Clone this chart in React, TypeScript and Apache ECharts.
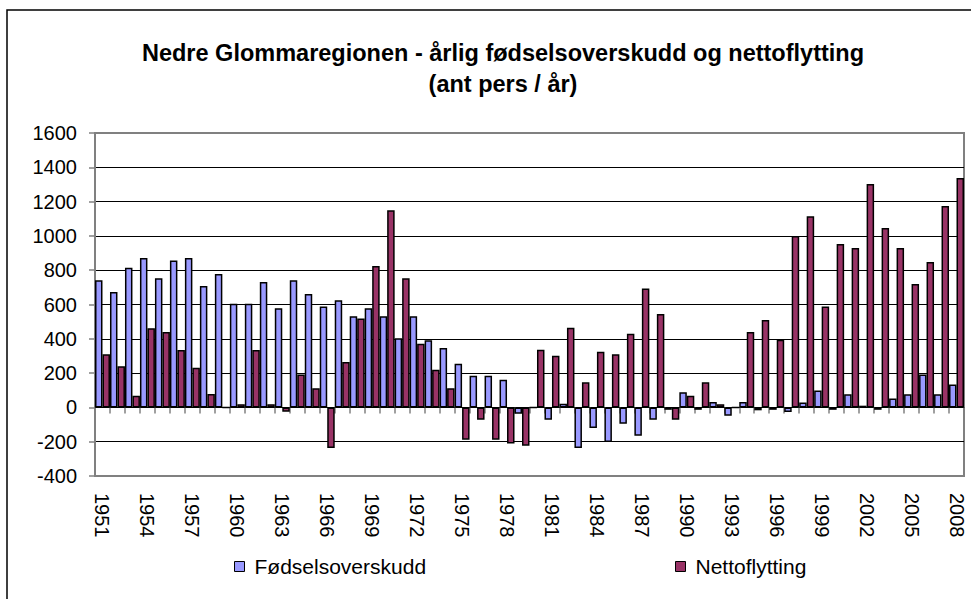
import React, { useEffect, useRef } from "react";
import * as echarts from "echarts";

const years = [
  "1951","1952","1953","1954","1955","1956","1957","1958","1959","1960",
  "1961","1962","1963","1964","1965","1966","1967","1968","1969","1970",
  "1971","1972","1973","1974","1975","1976","1977","1978","1979","1980",
  "1981","1982","1983","1984","1985","1986","1987","1988","1989","1990",
  "1991","1992","1993","1994","1995","1996","1997","1998","1999","2000",
  "2001","2002","2003","2004","2005","2006","2007","2008",
];

const fodselsoverskudd = [
  741, 673, 815, 871, 753, 857, 871, 708, 778, 605,
  605, 731, 578, 741, 661, 588, 625, 532, 578, 532,
  403, 532, 392, 347, 254, 184, 184, 161, -37, 0,
  -72, 21, -237, -120, -202, -95, -165, -72, -14, 89,
  -14, 31, -48, 31, -17, -14, -27, 29, 99, -14,
  76, 10, -14, 52, 76, 192, 76, 134,
];

const nettoflytting = [
  310, 240, 68, 462, 440, 334, 231, 78, 0, 19,
  334, 19, -25, 192, 112, -237, 264, 518, 825, 1150,
  753, 371, 219, 112, -188, -72, -188, -211, -223, 336,
  301, 464, 146, 324, 310, 429, 694, 545, -72, 68,
  146, 19, 0, 440, 510, 394, 1000, 1115, 588, 953,
  929, 1302, 1046, 929, 720, 848, 1174, 1337,
];

const titleLines = [
  "Nedre Glommaregionen - årlig fødselsoverskudd og nettoflytting",
  "(ant pers / år)",
];

const FONT = "'Liberation Sans', Arial, sans-serif";

export default function App() {
  const ref = useRef<HTMLDivElement>(null);

  useEffect(() => {
    if (!ref.current) return;
    const chart = echarts.init(ref.current, undefined, { renderer: "svg" });
    const splitColors = ["rgba(0,0,0,0)"];
    for (let i = 0; i < 9; i++) splitColors.push("#000000");
    splitColors.push("rgba(0,0,0,0)");

    chart.setOption({
      animation: false,
      backgroundColor: "#ffffff",
      textStyle: { fontFamily: FONT },
      graphic: [
        {
          type: "rect",
          shape: { x: 7, y: 10, width: 1000, height: 700 },
          style: { fill: "none", stroke: "#000", lineWidth: 1.5 },
          silent: true,
        },
        {
          type: "text",
          x: 503,
          y: 53,
          style: {
            text: titleLines[0],
            font: `bold 23.5px ${FONT}`,
            fill: "#000",
            textAlign: "center",
            textVerticalAlign: "middle",
          },
        },
        {
          type: "text",
          x: 503,
          y: 84,
          style: {
            text: titleLines[1],
            font: `bold 23.5px ${FONT}`,
            fill: "#000",
            textAlign: "center",
            textVerticalAlign: "middle",
          },
        },
      ],
      legend: [
        {
          data: ["Fødselsoverskudd"],
          left: 229,
          top: 551,
          icon: "rect",
          itemWidth: 10,
          itemHeight: 10,
          itemStyle: { borderColor: "#000", borderWidth: 1 },
          textStyle: { fontSize: 21, color: "#000", fontFamily: FONT, padding: [0, 0, 0, 5] },
        },
        {
          data: ["Nettoflytting"],
          left: 670,
          top: 551,
          icon: "rect",
          itemWidth: 10,
          itemHeight: 10,
          itemStyle: { borderColor: "#000", borderWidth: 1 },
          textStyle: { fontSize: 21, color: "#000", fontFamily: FONT, padding: [0, 0, 0, 5] },
        },
      ],
      grid: {
        left: 95,
        top: 133,
        width: 869,
        height: 343,
        show: true,
        borderColor: "#808080",
        borderWidth: 2,
        backgroundColor: "#ffffff",
      },
      xAxis: [
        {
          type: "category",
          data: years,
          position: "bottom",
          axisLine: { show: false, onZero: false },
          axisTick: { show: false },
          axisLabel: {
            interval: 2,
            rotate: -90,
            fontSize: 20,
            color: "#000",
            fontFamily: FONT,
            margin: 17,
          },
          splitLine: { show: false },
        },
        {
          type: "category",
          data: years,
          position: "top",
          axisLine: { show: true, onZero: true, lineStyle: { color: "#000", width: 1 } },
          axisTick: {
            show: true,
            inside: true,
            interval: 0,
            length: 6,
            lineStyle: { color: "#808080", width: 1.5 },
          },
          axisLabel: { show: false },
          splitLine: { show: false },
        },
      ],
      yAxis: {
        type: "value",
        min: -400,
        max: 1600,
        interval: 200,
        axisLine: { show: true, lineStyle: { color: "#808080", width: 2 } },
        axisTick: { show: true, length: 6, lineStyle: { color: "#808080", width: 1.5 } },
        axisLabel: {
          fontSize: 20,
          color: "#000",
          fontFamily: FONT,
          margin: 18,
          formatter: (v: number) => String(v),
        },
        splitLine: { show: true, lineStyle: { color: splitColors, width: 1 } },
      },
      series: [
        {
          name: "Fødselsoverskudd",
          type: "bar",
          data: fodselsoverskudd,
          xAxisIndex: 0,
          barGap: "0%",
          barCategoryGap: "0%",
          itemStyle: { color: "#9999FF", borderColor: "#000", borderWidth: 1.5 },
        },
        {
          name: "Nettoflytting",
          type: "bar",
          data: nettoflytting,
          xAxisIndex: 0,
          barGap: "0%",
          barCategoryGap: "0%",
          itemStyle: { color: "#993366", borderColor: "#000", borderWidth: 1.5 },
        },
      ],
    });

    return () => chart.dispose();
  }, []);

  return (
    <div
      ref={ref}
      style={{ position: "absolute", left: 0, top: 0, width: 971, height: 599 }}
    />
  );
}
